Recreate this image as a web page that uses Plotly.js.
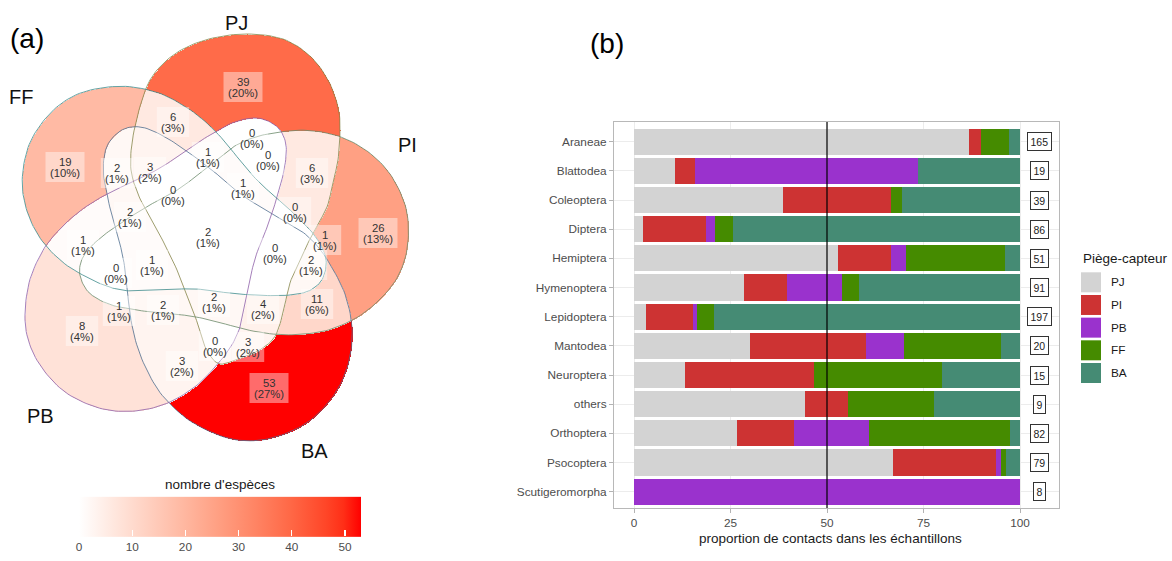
<!DOCTYPE html>
<html><head><meta charset="utf-8">
<script src="https://cdn.plot.ly/plotly-3.0.1.min.js"></script>
<style>html,body{margin:0;padding:0;background:#fff}#chart{width:1172px;height:561px}</style>
</head><body><div id="chart"></div>
<script>
// ================= DATA : panel (a) Venn =================
const vennSets = ["PJ", "PI", "BA", "PB", "FF"];
// species counts per Venn region (label order below)
const regionCounts = [39, 26, 53, 8, 19, 6, 6, 11, 3, 1, 2, 3, 0, 2, 1, 0, 0, 1, 0, 1, 2, 0, 2, 1, 0, 1, 2, 2, 4, 0, 3];
const colorbarTicks = [0, 10, 20, 30, 40, 50];

// ================= DATA : panel (b) bars =================
const orders = ["Araneae", "Blattodea", "Coleoptera", "Diptera", "Hemiptera", "Hymenoptera", "Lepidoptera",
  "Mantodea", "Neuroptera", "others", "Orthoptera", "Psocoptera", "Scutigeromorpha"];
const traps = ["PJ", "PI", "PB", "FF", "BA"];
const pctPJ = [86.8, 10.5, 38.5, 2.3, 52.9, 28.6, 3.0, 30.0, 13.3, 44.4, 26.8, 67.1, 0];
const pctPI = [3.0, 5.3, 28.2, 16.3, 13.7, 11.0, 12.2, 30.0, 33.3, 11.1, 14.6, 26.6, 0];
const pctPB = [0, 57.9, 0, 2.3, 3.9, 14.3, 1.0, 10.0, 0, 0, 19.5, 1.3, 100];
const pctFF = [7.4, 0, 2.6, 4.7, 25.5, 4.4, 4.6, 25.0, 33.3, 22.2, 36.6, 1.3, 0];
const pctBA = [2.8, 26.3, 30.8, 74.4, 3.9, 41.8, 79.2, 5.0, 20.0, 22.2, 2.4, 3.8, 0];
const nContacts = [165, 19, 39, 86, 51, 91, 197, 20, 15, 9, 82, 79, 8];
const xTicks = [0, 25, 50, 75, 100];

// ================= STYLE / GEOMETRY =================
const FONT = "Liberation Sans, Arial, sans-serif";
const trapColors = {PJ: "#D3D3D3", PI: "#CD3333", PB: "#9A32CD", FF: "#458B00", BA: "#458B74"};
const pctBySeries = {PJ: pctPJ, PI: pctPI, PB: pctPB, FF: pctFF, BA: pctBA};
const vennScale = [[0, "rgb(255,255,255)"], [0.125, "rgb(255,231,222)"], [0.25, "rgb(255,207,191)"],
  [0.375, "rgb(255,183,160)"], [0.5, "rgb(255,158,129)"], [0.625, "rgb(255,132,100)"],
  [0.75, "rgb(255,104,70)"], [0.875, "rgb(255,70,40)"], [0.9375, "rgb(255,47,23)"], [1, "rgb(255,0,0)"]];
const edgeColors = {PJ: "#85854a", PI: "#6b8a6b", BA: "#4f6f8f", PB: "#8e5fa8", FF: "#3e8a8a"};

// page-pixel positions of region labels (same order as regionCounts)
const regionLabelPos = [[243, 87], [378, 233], [269, 388], [82, 331], [65, 167], [173, 122], [312, 173], [317, 304],
  [182, 366], [83, 245], [117, 173], [150, 172], [173, 195], [130, 217], [208, 157], [252, 138], [268, 160],
  [243, 188], [295, 212], [325, 240], [311, 265], [275, 253], [208, 237], [152, 265], [116, 273], [119, 311],
  [163, 310], [214, 302], [263, 309], [215, 346], [248, 347]];
const setLabelPos = {PJ: [236, 23], PI: [407, 145], BA: [314, 451], PB: [40, 416], FF: [21, 97]};

// set outlines: PB and PJ traced, the others are rotated copies of the PB outline about the centre
const vennCentre = [204, 237];
const eggOutline = [[253, 118], [268, 121], [280, 130], [286, 145], [285, 165], [280, 187], [274, 207], [268, 225],
  [261, 242], [254, 262], [249, 285], [244, 310], [239, 330], [230, 348], [216, 366], [196, 386], [170, 402],
  [143, 410], [115, 411], [90, 405], [65, 392], [45, 372], [31, 348], [25, 320], [29, 283], [42, 252], [58, 231],
  [80, 211], [107, 194], [143, 177], [165, 165], [188, 149], [210, 135], [232, 123]];
const pjOutline = [[150, 80], [167, 60], [187, 47], [213, 38], [247, 34], [283, 39], [310, 56], [328, 80], [338, 107],
  [340, 130], [338, 160], [333, 182], [327, 207], [313, 233], [300, 260], [290, 283], [282, 317], [274, 338],
  [258, 351], [240, 358], [220, 364], [207, 351], [200, 330], [190, 303], [177, 270], [163, 241], [150, 218],
  [138, 194], [131, 170], [132, 143], [139, 110]];
const setRotation = {PB: 0, BA: 71, PI: 140, FF: 284};
const setScaleF = {PB: 1, BA: 1.02, PI: 0.98, FF: 0.95};

function smoothClosed(pts, seg) {
  const out = [], n = pts.length;
  for (let i = 0; i < n; i++) {
    const p0 = pts[(i - 1 + n) % n], p1 = pts[i], p2 = pts[(i + 1) % n], p3 = pts[(i + 2) % n];
    for (let k = 0; k < seg; k++) {
      const t = k / seg, t2 = t * t, t3 = t2 * t;
      const f = (a, b, c, d) => 0.5 * (2 * b + (-a + c) * t + (2 * a - 5 * b + 4 * c - d) * t2 + (-a + 3 * b - 3 * c + d) * t3);
      out.push([f(p0[0], p1[0], p2[0], p3[0]), f(p0[1], p1[1], p2[1], p3[1])]);
    }
  }
  return out;
}
function placeShape(pts, rotDeg, s) {
  const t = rotDeg * Math.PI / 180, c = Math.cos(t), si = Math.sin(t);
  return pts.map(([x, y]) => {
    const dx = (x - vennCentre[0]) * s, dy = (y - vennCentre[1]) * s;
    return [vennCentre[0] + dx * c + dy * si, vennCentre[1] - dx * si + dy * c];
  });
}
const baseSmooth = smoothClosed(eggOutline, 8);
const setPolys = vennSets.map(s => s === "PJ" ? smoothClosed(pjOutline, 8) : placeShape(baseSmooth, setRotation[s], setScaleF[s]));

// raster of region membership
const X0 = 12, X1 = 422, Y0 = 15, Y1 = 455;
const gx = [], gy = [];
for (let x = X0; x <= X1; x++) gx.push(x);
for (let y = Y0; y <= Y1; y++) gy.push(y);
const mask = gy.map(() => new Int16Array(gx.length));
setPolys.forEach((poly, si) => {
  const bit = 1 << si;
  for (let r = 0; r < gy.length; r++) {
    const y = gy[r], xs = [];
    for (let i = 0, j = poly.length - 1; i < poly.length; j = i++) {
      const [xi, yi] = poly[i], [xj, yj] = poly[j];
      if ((yi > y) !== (yj > y)) xs.push(xi + (y - yi) * (xj - xi) / (yj - yi));
    }
    xs.sort((a, b) => a - b);
    for (let k = 0; k + 1 < xs.length; k += 2) {
      const c0 = Math.max(0, Math.ceil(xs[k] - X0)), c1 = Math.min(gx.length - 1, Math.floor(xs[k + 1] - X0));
      for (let c = c0; c <= c1; c++) mask[r][c] |= bit;
    }
  }
});
const countByMask = {};
regionLabelPos.forEach(([lx, ly], i) => {
  const m = mask[Math.round(ly - Y0)][Math.round(lx - X0)];
  if (m && !(m in countByMask)) countByMask[m] = regionCounts[i];
});
const zGrid = mask.map(row => Array.from(row, m => m ? (m in countByMask ? countByMask[m] : 0) : null));
const total = regionCounts.reduce((a, b) => a + b, 0);
const zMax = Math.max(...regionCounts);

// ================= TRACES =================
const traces = [];
traces.push({
  type: "heatmap", x: gx, y: gy, z: zGrid, xaxis: "x", yaxis: "y", zmin: 0, zmax: zMax,
  colorscale: vennScale, zsmooth: false, hoverinfo: "skip", showscale: true,
  colorbar: {
    orientation: "h", x: 220 / 1172, xanchor: "center", xref: "paper", y: 0, yanchor: "bottom", yref: "paper",
    len: 282, lenmode: "pixels", thickness: 40, thicknessmode: "pixels", outlinewidth: 0, xpad: 0, ypad: 0,
    tickvals: colorbarTicks, ticks: "inside", ticklen: 6, tickwidth: 1.3, tickcolor: "white",
    tickfont: {family: FONT, size: 11.8, color: "#4d4d4d"},
    title: {text: "nombre d'espèces", side: "top", font: {family: FONT, size: 13.5, color: "#1a1a1a"}}
  }
});
setPolys.forEach((poly, si) => {
  const closed = poly.concat([poly[0]]);
  traces.push({type: "scatter", mode: "lines", x: closed.map(p => p[0]), y: closed.map(p => p[1]),
    xaxis: "x", yaxis: "y", line: {color: edgeColors[vennSets[si]], width: 0.8}, hoverinfo: "skip", showlegend: false});
});
traps.forEach(t => {
  traces.push({type: "bar", orientation: "h", y: orders, x: pctBySeries[t], name: t, xaxis: "x2", yaxis: "y2",
    marker: {color: trapColors[t], line: {width: 0}}, width: 0.9, hoverinfo: "skip", showlegend: false});
});

// ================= ANNOTATIONS / SHAPES =================
const ann = [], shapes = [];
const txt = (x, y, text, size, color, extra) => Object.assign({xref: "x", yref: "y", x, y, text, showarrow: false,
  font: {family: FONT, size, color}}, extra || {});
regionCounts.forEach((n, i) => {
  const [lx, ly] = regionLabelPos[i];
  const pct = "(" + Math.round(n / total * 100) + "%)";
  const w = Math.max(String(n).length, pct.length) * 6.6 + 6;
  shapes.push({type: "rect", xref: "x", yref: "y", x0: lx - w / 2, x1: lx + w / 2, y0: ly - 15, y1: ly + 15,
    fillcolor: "rgba(255,255,255,0.42)", line: {width: 0}, layer: "above"});
  ann.push(txt(lx, ly - 5.5, String(n), 11.3, "#333"));
  ann.push(txt(lx, ly + 5.5, pct, 11.3, "#333"));
});
vennSets.forEach(s => ann.push(txt(setLabelPos[s][0], setLabelPos[s][1], s, 20, "#111")));
ann.push(txt(27, 38, "(a)", 28, "#000"));
ann.push(txt(607, 43, "(b)", 28, "#000"));
// count labels
orders.forEach((o, i) => ann.push({xref: "x2", yref: "y2", x: 105, y: o, text: String(nContacts[i]), showarrow: false,
  font: {family: FONT, size: 10.5, color: "#222"}, bgcolor: "white", bordercolor: "#333", borderwidth: 1, borderpad: 2.5}));
// axis title
ann.push(txt(830, 538, "proportion de contacts dans les échantillons", 13.5, "#1a1a1a"));
// reference line at 50
shapes.push({type: "line", xref: "x2", yref: "y2 domain", x0: 50, x1: 50, y0: 0, y1: 1, line: {color: "#000", width: 1.2}, layer: "above"});
// legend (drawn by hand)
ann.push(txt(1081, 258, "Piège-capteur", 13.5, "#1a1a1a", {xanchor: "left"}));
traps.forEach((t, i) => {
  const cy = 282.3 + i * 22.67;
  shapes.push({type: "rect", xref: "x", yref: "y", x0: 1081, x1: 1101, y0: cy - 10, y1: cy + 10,
    fillcolor: trapColors[t], line: {width: 0}, layer: "above"});
  ann.push(txt(1109, cy, t, 11.8, "#1a1a1a", {xanchor: "left"}));
});

const layout = {
  width: 1172, height: 561, margin: {l: 0, r: 0, t: 0, b: 0}, paper_bgcolor: "white", plot_bgcolor: "rgba(0,0,0,0)",
  showlegend: false, font: {family: FONT},
  xaxis: {domain: [0, 1], range: [0, 1172], visible: false, fixedrange: true},
  yaxis: {domain: [0, 1], range: [561, 0], visible: false, fixedrange: true},
  xaxis2: {domain: [614 / 1172, 1059 / 1172], anchor: "y2", range: [-5.18, 110.1], tickvals: xTicks,
    ticks: "outside", ticklen: 4, tickcolor: "#b3b3b3", tickfont: {family: FONT, size: 11.8, color: "#4d4d4d"},
    showgrid: true, gridcolor: "#ececec", zeroline: false, showline: true, mirror: true, linecolor: "#b8b8b8", linewidth: 1},
  yaxis2: {domain: [1 - 508 / 561, 1 - 122 / 561], anchor: "x2", type: "category", categoryorder: "array",
    categoryarray: orders, range: [12.56, -0.675], ticks: "outside", ticklen: 4, tickcolor: "#b3b3b3",
    tickfont: {family: FONT, size: 11.8, color: "#4d4d4d"}, showgrid: true, gridcolor: "#ececec",
    zeroline: false, showline: true, mirror: true, linecolor: "#b8b8b8", linewidth: 1},
  barmode: "stack", bargap: 0.1, annotations: ann, shapes: shapes
};
Plotly.newPlot("chart", traces, layout, {displayModeBar: false, staticPlot: true});
</script></body></html>
